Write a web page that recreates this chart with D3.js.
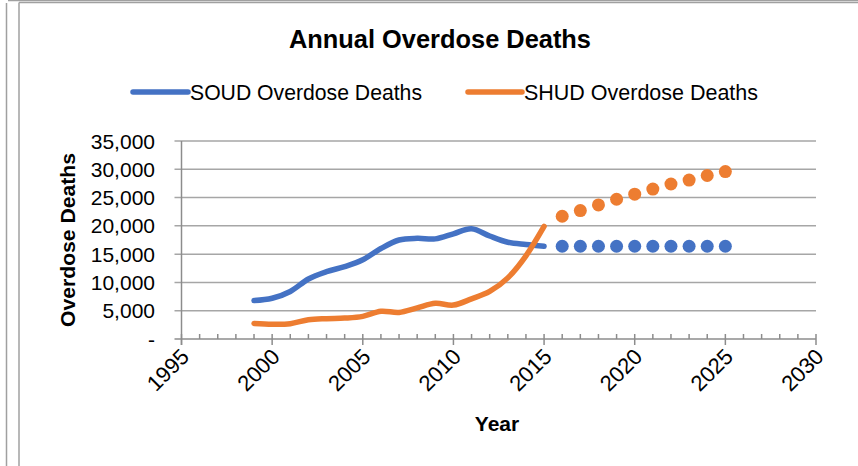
<!DOCTYPE html>
<html>
<head>
<meta charset="utf-8">
<script src="https://cdn.jsdelivr.net/npm/d3@7"></script>
<style>
  html, body { margin: 0; padding: 0; background: #fff; }
  svg { display: block; font-family: "Liberation Sans", Arial, sans-serif; }
</style>
</head>
<body>
<svg id="chart" width="858" height="466"></svg>
<script>
// Observed annual deaths
const years = [1999, 2000, 2001, 2002, 2003, 2004, 2005, 2006, 2007, 2008, 2009, 2010, 2011, 2012, 2013, 2014, 2015];
const soudDeaths = [6800, 7200, 8400, 10600, 11900, 12800, 14000, 16000, 17500, 17800, 17700, 18600, 19500, 18200, 17100, 16700, 16400];
const shudDeaths = [2750, 2600, 2700, 3400, 3600, 3700, 4000, 4900, 4700, 5500, 6300, 6000, 7100, 8400, 10800, 14700, 19900];

// Projected annual deaths
const projYears = [2016, 2017, 2018, 2019, 2020, 2021, 2022, 2023, 2024, 2025];
const soudProjected = [16400, 16400, 16400, 16400, 16400, 16400, 16400, 16400, 16400, 16400];
const shudProjected = [21700, 22700, 23700, 24700, 25600, 26500, 27400, 28100, 28900, 29600];

// Axis ticks
const xTicks = [1995, 2000, 2005, 2010, 2015, 2020, 2025, 2030];
const xMinorTicks = d3.range(1995, 2031);
const yTicks = [0, 5000, 10000, 15000, 20000, 25000, 30000, 35000];
const yTickLabels = ["-", "5,000", "10,000", "15,000", "20,000", "25,000", "30,000", "35,000"];

const seriesNames = ["SOUD Overdose Deaths", "SHUD Overdose Deaths"];
const colors = ["#4472C4", "#ED7D31"];

const svg = d3.select("#chart");
const W = 858, H = 466;

// Frame lines around the chart
const frame = svg.append("g").attr("stroke", "#a0a0a0").attr("stroke-width", 1.5).attr("fill", "none");
frame.append("line").attr("x1", 6.5).attr("y1", 3).attr("x2", 6.5).attr("y2", H);
frame.append("line").attr("x1", 8).attr("y1", 0.5).attr("x2", W).attr("y2", 0.5);
frame.append("line").attr("x1", 19).attr("y1", 2.5).attr("x2", 19).attr("y2", H);
frame.append("line").attr("x1", 19).attr("y1", 2.5).attr("x2", W).attr("y2", 2.5);

const x = d3.scaleLinear().domain([1995, 2030]).range([181.5, 816]);
const y = d3.scaleLinear().domain([0, 35000]).range([339, 141]);

// Title
svg.append("text")
  .attr("x", 440).attr("y", 48)
  .attr("text-anchor", "middle")
  .attr("font-size", 25).attr("font-weight", "bold").attr("fill", "#000")
  .attr("textLength", 302).attr("lengthAdjust", "spacingAndGlyphs")
  .style("font-size", "26px")
  .text("Annual Overdose Deaths");

// Legend
const legend = [
  { name: seriesNames[0], color: colors[0], x0: 133, x1: 188, w: 232 },
  { name: seriesNames[1], color: colors[1], x0: 468, x1: 522, w: 234 }
];
legend.forEach(l => {
  svg.append("line")
    .attr("x1", l.x0).attr("x2", l.x1).attr("y1", 92).attr("y2", 92)
    .attr("stroke", l.color).attr("stroke-width", 5.5).attr("stroke-linecap", "round");
  svg.append("text")
    .attr("x", l.x1 + 2).attr("y", 99.5)
    .attr("font-size", 22).attr("fill", "#000")
    .attr("textLength", l.w).attr("lengthAdjust", "spacingAndGlyphs")
    .text(l.name);
});

// Horizontal gridlines with outward tick marks
svg.append("g")
  .selectAll("line")
  .data(yTicks.slice(1))
  .join("line")
  .attr("x1", x(1995) - 7).attr("x2", x(2030))
  .attr("y1", d => y(d)).attr("y2", d => y(d))
  .attr("stroke", "#a6a6a6").attr("stroke-width", 1.5);

// Y axis line
svg.append("line")
  .attr("x1", x(1995)).attr("x2", x(1995))
  .attr("y1", y(35000)).attr("y2", y(0) + 6)
  .attr("stroke", "#8c8c8c").attr("stroke-width", 1.5);

// Y tick labels
svg.append("g")
  .selectAll("text")
  .data(yTicks)
  .join("text")
  .attr("x", 155).attr("y", d => y(d))
  .attr("dy", "0.36em")
  .attr("text-anchor", "end")
  .attr("font-size", 21).attr("fill", "#000")
  .text((d, i) => yTickLabels[i]);

// X axis line and ticks
const xAxis = svg.append("g").attr("stroke", "#8c8c8c").attr("stroke-width", 1.5);
xAxis.append("line")
  .attr("x1", x(1995) - 7).attr("x2", x(2030))
  .attr("y1", y(0)).attr("y2", y(0));
xAxis.selectAll("line.minor")
  .data(xMinorTicks.filter(d => d % 5 !== 0))
  .join("line").attr("class", "minor")
  .attr("x1", d => x(d)).attr("x2", d => x(d))
  .attr("y1", y(0) - 5).attr("y2", y(0));
xAxis.selectAll("line.major")
  .data(xTicks)
  .join("line").attr("class", "major")
  .attr("x1", d => x(d)).attr("x2", d => x(d))
  .attr("y1", y(0) - 5).attr("y2", y(0) + 6);

// X tick labels, rotated
svg.append("g")
  .selectAll("text")
  .data(xTicks)
  .join("text")
  .attr("transform", d => `translate(${x(d) + 9},${y(0) + 19}) rotate(-45)`)
  .attr("text-anchor", "end")
  .attr("font-size", 22).attr("fill", "#000")
  .text(d => String(d));

// Axis titles
svg.append("text")
  .attr("x", 497).attr("y", 431)
  .attr("text-anchor", "middle")
  .attr("font-size", 21).attr("font-weight", "bold").attr("fill", "#000")
  .text("Year");

svg.append("text")
  .attr("transform", "translate(75,240) rotate(-90)")
  .attr("text-anchor", "middle")
  .attr("font-size", 21).attr("font-weight", "bold").attr("fill", "#000")
  .attr("textLength", 174).attr("lengthAdjust", "spacingAndGlyphs")
  .text("Overdose Deaths");

// Observed series as smoothed lines
const line = d3.line()
  .x(d => x(d[0]))
  .y(d => y(d[1]))
  .curve(d3.curveCatmullRom.alpha(0));

[soudDeaths, shudDeaths].forEach((vals, i) => {
  svg.append("path")
    .datum(years.map((yr, j) => [yr, vals[j]]))
    .attr("fill", "none")
    .attr("stroke", colors[i])
    .attr("stroke-width", 5.5)
    .attr("stroke-linecap", "round")
    .attr("stroke-linejoin", "round")
    .attr("d", line);
});

// Projected series as dots
[soudProjected, shudProjected].forEach((vals, i) => {
  svg.append("g")
    .selectAll("circle")
    .data(projYears.map((yr, j) => [yr, vals[j]]))
    .join("circle")
    .attr("cx", d => x(d[0]))
    .attr("cy", d => y(d[1]))
    .attr("r", 6.5)
    .attr("fill", colors[i]);
});
</script>
</body>
</html>
